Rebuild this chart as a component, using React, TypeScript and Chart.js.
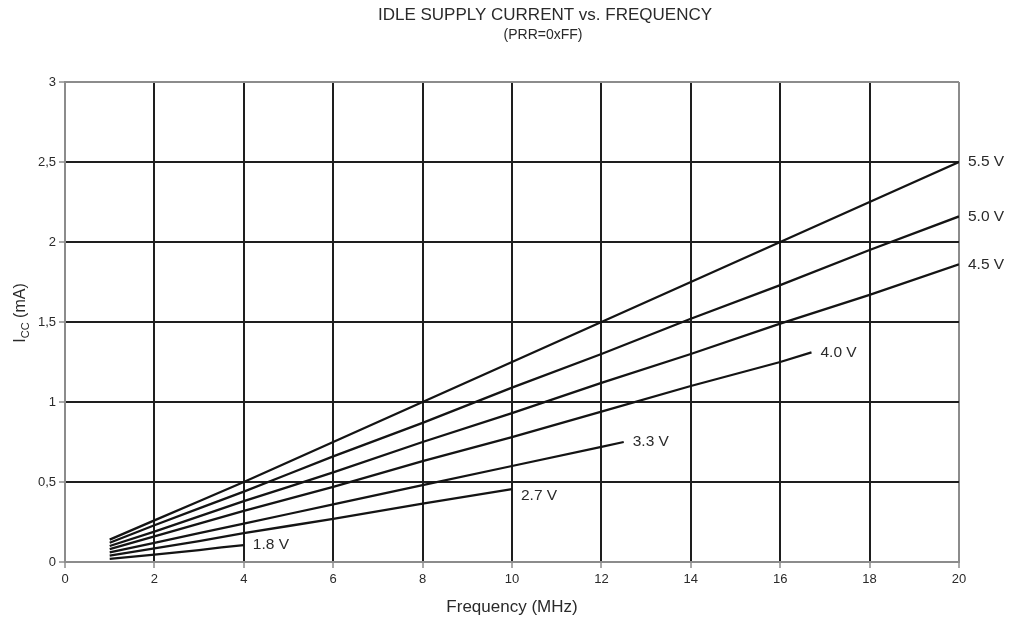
import React, { useEffect, useRef } from 'react';
import { Chart, registerables } from 'chart.js';

Chart.register(...registerables);

// ---- Data ----
const FREQ_55 = [1, 2, 3, 4, 5, 6, 8, 10, 12, 14, 16, 18, 20];
const ICC_55 = [0.14, 0.26, 0.38, 0.5, 0.625, 0.75, 1.0, 1.25, 1.5, 1.75, 2.0, 2.25, 2.5];

const FREQ_50 = [1, 2, 3, 4, 5, 6, 8, 10, 12, 14, 16, 18, 20];
const ICC_50 = [0.12, 0.23, 0.335, 0.44, 0.55, 0.66, 0.87, 1.09, 1.3, 1.52, 1.73, 1.95, 2.16];

const FREQ_45 = [1, 2, 3, 4, 5, 6, 8, 10, 12, 14, 16, 18, 20];
const ICC_45 = [0.1, 0.19, 0.285, 0.38, 0.47, 0.56, 0.75, 0.93, 1.12, 1.3, 1.49, 1.67, 1.86];

const FREQ_40 = [1, 2, 3, 4, 5, 6, 8, 10, 12, 14, 16, 16.7];
const ICC_40 = [0.08, 0.16, 0.24, 0.32, 0.395, 0.47, 0.63, 0.78, 0.94, 1.1, 1.25, 1.31];

const FREQ_33 = [1, 2, 3, 4, 5, 6, 8, 10, 12, 12.5];
const ICC_33 = [0.06, 0.12, 0.18, 0.24, 0.3, 0.36, 0.48, 0.6, 0.72, 0.75];

const FREQ_27 = [1, 2, 3, 4, 5, 6, 8, 10];
const ICC_27 = [0.04, 0.085, 0.13, 0.18, 0.225, 0.27, 0.365, 0.456];

const FREQ_18 = [1, 2, 3, 3.5, 4];
const ICC_18 = [0.02, 0.046, 0.074, 0.091, 0.106];

const SERIES_LABELS = ['5.5 V', '5.0 V', '4.5 V', '4.0 V', '3.3 V', '2.7 V', '1.8 V'];
const SERIES_FREQ = [FREQ_55, FREQ_50, FREQ_45, FREQ_40, FREQ_33, FREQ_27, FREQ_18];
const SERIES_ICC = [ICC_55, ICC_50, ICC_45, ICC_40, ICC_33, ICC_27, ICC_18];

const X_MIN = 0;
const X_MAX = 20;
const X_STEP = 2;
const Y_MIN = 0;
const Y_MAX = 3;
const Y_STEP = 0.5;

const TITLE = 'IDLE SUPPLY CURRENT vs. FREQUENCY';
const SUBTITLE = '(PRR=0xFF)';
const X_TITLE = 'Frequency (MHz)';

const FONT = '"Liberation Sans", Arial, Helvetica, sans-serif';
const LINE_COLOR = '#141414';
const GRID_COLOR = '#1e1e1e';
const EDGE_COLOR = '#8c8c8c';
const TEXT_COLOR = '#2a2a2a';

const textPlugin = {
  id: 'textPlugin',
  afterDraw(chart: any) {
    const ctx = chart.ctx as CanvasRenderingContext2D;
    const area = chart.chartArea;
    ctx.save();
    ctx.fillStyle = TEXT_COLOR;

    // Titles
    ctx.textAlign = 'center';
    ctx.textBaseline = 'middle';
    ctx.font = `17px ${FONT}`;
    ctx.fillText(TITLE, 545, 15);
    ctx.font = `14px ${FONT}`;
    ctx.fillText(SUBTITLE, 543, 35);

    // X axis title
    ctx.font = `17px ${FONT}`;
    ctx.fillText(X_TITLE, (area.left + area.right) / 2, 607);

    // Y axis title: I_CC (mA)
    ctx.save();
    ctx.translate(19, 313);
    ctx.rotate(-Math.PI / 2);
    ctx.textAlign = 'left';
    ctx.textBaseline = 'alphabetic';
    const bigFont = `16px ${FONT}`;
    const subFont = `11px ${FONT}`;
    ctx.font = bigFont;
    const wI = ctx.measureText('I').width;
    const wRest = ctx.measureText(' (mA)').width;
    ctx.font = subFont;
    const wCC = ctx.measureText('CC').width;
    const total = wI + wCC + wRest;
    let px = -total / 2;
    const base = 6;
    ctx.font = bigFont;
    ctx.fillText('I', px, base);
    px += wI;
    ctx.font = subFont;
    ctx.fillText('CC', px, base + 4);
    px += wCC;
    ctx.font = bigFont;
    ctx.fillText(' (mA)', px, base);
    ctx.restore();

    // Curve labels
    ctx.font = `15.5px ${FONT}`;
    ctx.textAlign = 'left';
    ctx.textBaseline = 'middle';
    chart.data.datasets.forEach((ds: any, i: number) => {
      const meta = chart.getDatasetMeta(i);
      const last = meta.data[meta.data.length - 1];
      if (!last) return;
      const dy = ds.label === '2.7 V' ? 7 : 0;
      ctx.fillText(ds.label, last.x + 9, last.y + dy);
    });

    ctx.restore();
  },
};

export default function App() {
  const canvasRef = useRef<HTMLCanvasElement | null>(null);

  useEffect(() => {
    document.body.style.margin = '0';
    const canvas = canvasRef.current;
    if (!canvas) return;

    const datasets = SERIES_LABELS.map((label, i) => ({
      label,
      data: SERIES_FREQ[i].map((f, j) => ({ x: f, y: SERIES_ICC[i][j] })),
      borderColor: LINE_COLOR,
      borderWidth: 2.3,
      pointRadius: 0,
      tension: 0,
      fill: false,
    }));

    const chart = new Chart(canvas, {
      type: 'line',
      data: { datasets },
      plugins: [textPlugin],
      options: {
        animation: false,
        responsive: false,
        maintainAspectRatio: false,
        layout: { padding: { left: 0, top: 82, right: 59, bottom: 0 } },
        plugins: {
          legend: { display: false },
          title: { display: false },
          tooltip: { enabled: false },
        },
        scales: {
          x: {
            type: 'linear',
            min: X_MIN,
            max: X_MAX,
            afterFit: (scale: any) => {
              scale.height = 60;
            },
            ticks: {
              stepSize: X_STEP,
              color: TEXT_COLOR,
              font: { family: FONT, size: 13 },
              padding: 4,
              maxRotation: 0,
            },
            grid: {
              color: (c: any) => (c.tick && c.tick.value === X_MAX ? EDGE_COLOR : GRID_COLOR),
              lineWidth: 2,
              tickColor: '#555',
              tickLength: 6,
              tickWidth: 1,
            },
            border: { color: EDGE_COLOR, width: 2 },
          },
          y: {
            type: 'linear',
            min: Y_MIN,
            max: Y_MAX,
            afterFit: (scale: any) => {
              scale.width = 65;
            },
            ticks: {
              stepSize: Y_STEP,
              color: TEXT_COLOR,
              font: { family: FONT, size: 13 },
              padding: 3,
              callback: (v: any) => String(v).replace('.', ','),
            },
            grid: {
              color: (c: any) => (c.tick && c.tick.value === Y_MAX ? EDGE_COLOR : GRID_COLOR),
              lineWidth: 2,
              tickColor: '#555',
              tickLength: 6,
              tickWidth: 1,
            },
            border: { color: EDGE_COLOR, width: 2 },
          },
        },
      },
    });

    return () => {
      chart.destroy();
    };
  }, []);

  return (
    <div style={{ width: 1018, height: 622, background: '#fff' }}>
      <canvas ref={canvasRef} width={1018} height={622} style={{ display: 'block' }} />
    </div>
  );
}
